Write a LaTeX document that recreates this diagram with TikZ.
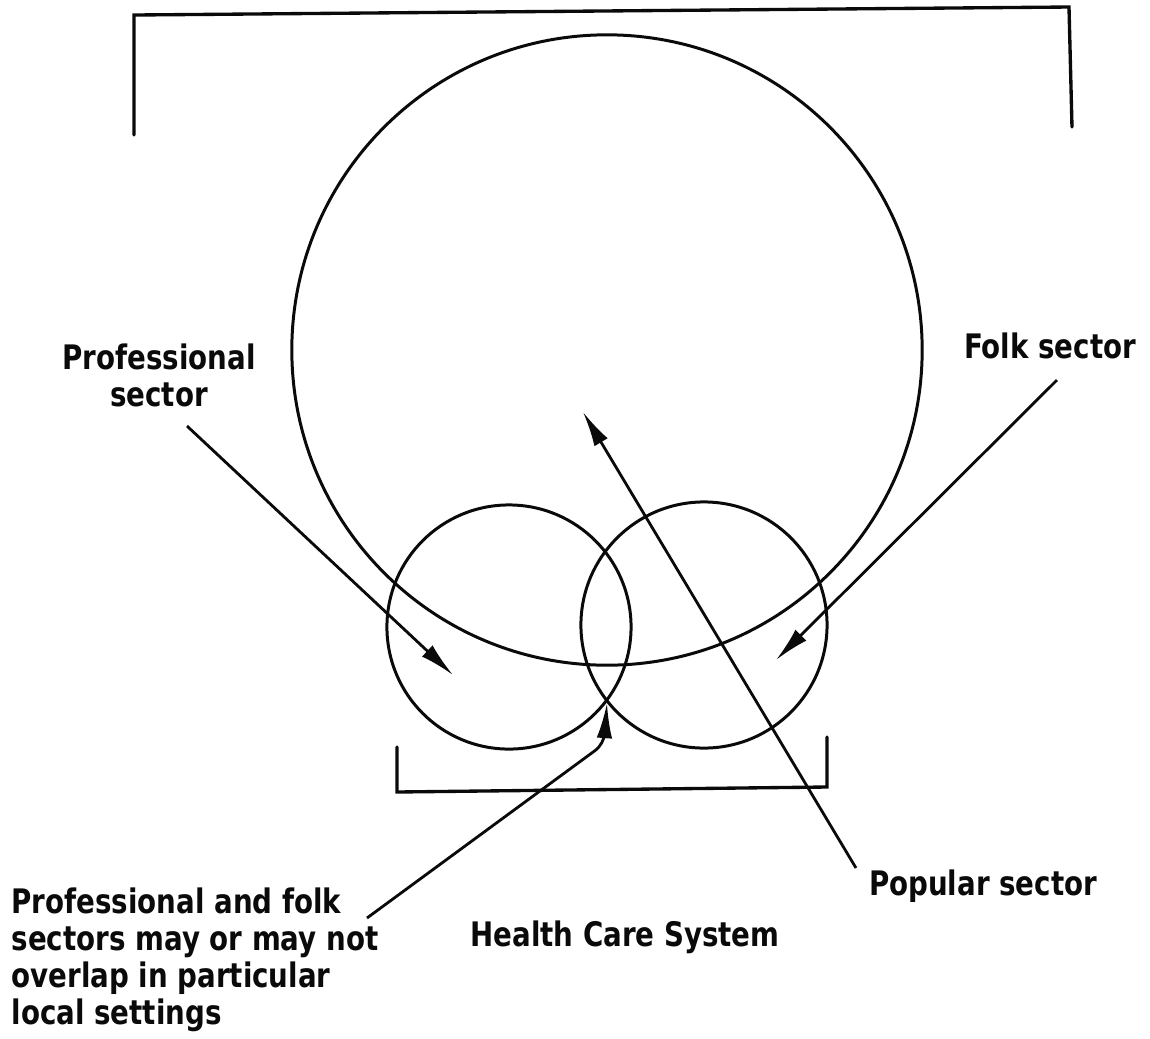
\documentclass[tikz,border=0pt]{standalone}
\usepackage{fontspec}
\setmainfont{DejaVu Sans}[FakeStretch=0.82]
\usetikzlibrary{arrows.meta,positioning}
\definecolor{inkblk}{RGB}{10,10,10}
\tikzset{
  lbl/.style={font=\fontsize{9.6}{10.5}\selectfont\bfseries, text=inkblk, inner sep=0pt},
  sec/.style={circle, draw=inkblk, line width=0.85pt, inner sep=0pt},
  arr/.style={-{Latex[length=10pt,width=4.4pt]}, inkblk, line width=0.8pt},
  brk/.style={inkblk, line width=0.95pt, line cap=round},
}

\begin{document}
\begin{tikzpicture}[x=0.01cm, y=-0.01cm]
    \useasboundingbox (0,0) rectangle (1150,1038);
    % brackets
    \draw[brk] (134,135) -- (134,15) -- (1069,7) -- (1072,127);
    \draw[brk] (397,747) -- (397,792) -- (827,787) -- (827,737);
    % sectors
    \node[sec, minimum size=6.3cm] (pop) at (607,350) {};
    \node[sec, minimum size=2.44cm] (prof) at (509,627) {};
    \node[sec, minimum size=2.46cm] (folk) at (704,625) {};
    % labels
    \node[lbl, align=center, anchor=north] (proflab) at (159,343) {Professional\\sector};
    \node[lbl, anchor=base] (folklab) at (1050,358) {Folk sector};
    \node[lbl, anchor=base] (poplab) at (983,895) {Popular sector};
    \node[lbl, anchor=base] (hcs) at (625,946) {Health Care System};
    \node[lbl, align=left, anchor=north west] (ovlab) at (11,887)
      {Professional and folk\\sectors may or may not\\overlap in particular\\local settings};
    % arrows
    \coordinate (proftail) at (187,426);
    \coordinate (proftip) at (453,675);
    \coordinate (folktail) at (1057,380);
    \coordinate (folktip) at (776,660);
    \coordinate (poptail) at (856,868);
    \coordinate (poptip) at (583,412);
    \coordinate (ovtail) at (367,918);
    \coordinate (ovbend) at (604,744);
    \coordinate (ovtip) at (607,703);
    \draw[arr] (proftail) -- (proftip);
    \draw[arr] (folktail) -- (folktip);
    \draw[arr] (poptail) -- (poptip);
    \draw[arr, rounded corners=3pt] (ovtail) -- (ovbend) -- (ovtip);
  \end{tikzpicture}
\end{document}
